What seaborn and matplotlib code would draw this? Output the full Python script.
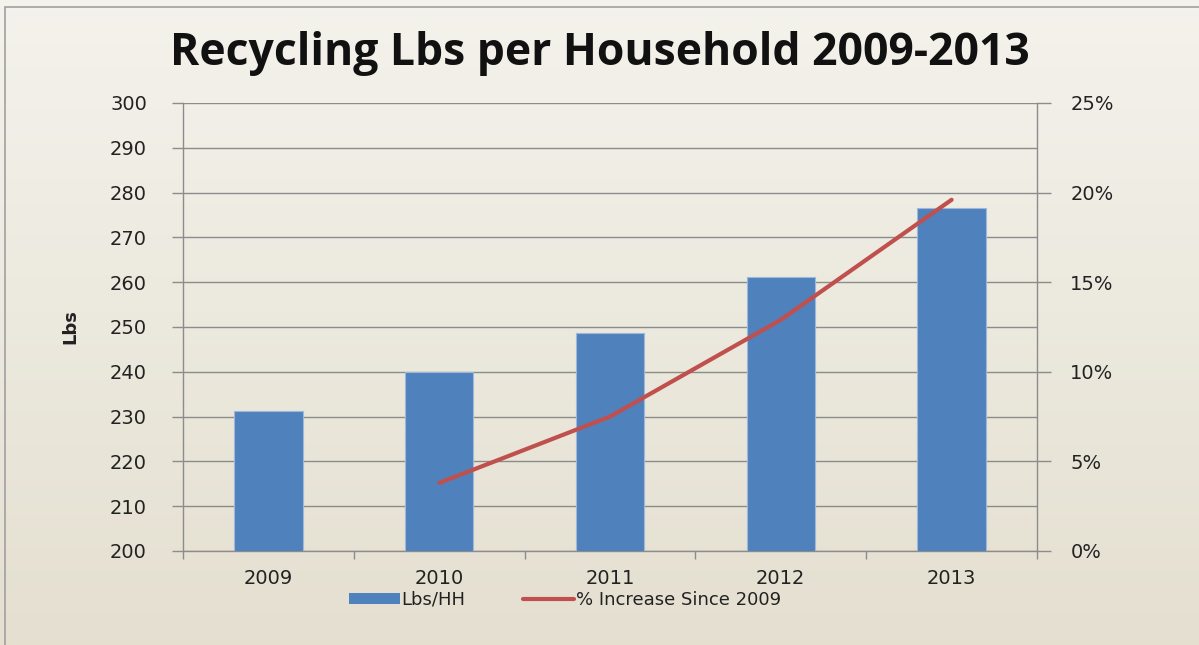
import numpy as np
import pandas as pd
import matplotlib
matplotlib.use("Agg")
import matplotlib.pyplot as plt
from matplotlib.patches import Rectangle, Patch
from matplotlib.lines import Line2D
from matplotlib.ticker import FuncFormatter
import seaborn as sns

# ---- data ----
years = ["2009", "2010", "2011", "2012", "2013"]
lbs_per_hh = [231.3, 240.0, 248.7, 261.2, 276.6]
pct_years = ["2010", "2011", "2012", "2013"]
pct_increase = [3.8, 7.5, 12.9, 19.6]

title = "Recycling Lbs per Household 2009-2013"
bar_label = "Lbs/HH"
line_label = "% Increase Since 2009"

sns.set_theme(style="white")
plt.rcParams["font.family"] = ["DejaVu Sans"]

BLUE = "#4F81BD"
RED = "#C0504D"
GRID = "#8C8C8C"
TXT = "#222222"

fig = plt.figure(figsize=(11.99, 6.45), dpi=100)

# gradient background
bg = fig.add_axes([0, 0, 1, 1], zorder=-10)
grad = np.linspace(0, 1, 256).reshape(-1, 1)
top = np.array([0.955, 0.950, 0.925])
bot = np.array([0.895, 0.875, 0.815])
img = top[None, None, :] * (1 - grad[:, :, None]) + bot[None, None, :] * grad[:, :, None]
bg.imshow(img, aspect="auto", extent=[0, 1, 0, 1], origin="upper")
bg.set_xlim(0, 1); bg.set_ylim(0, 1)
bg.axis("off")
bg.add_patch(Rectangle((5 / 1199, -0.01), 1.1, 1 - 7 / 645 + 0.01, fill=False,
                       edgecolor="#A0A0A0", lw=1.2, transform=bg.transAxes))

W, H = 1199, 645
l, r, t, b = 183, 1037, 103, 551
ax = fig.add_axes([l / W, 1 - b / H, (r - l) / W, (b - t) / H])
ax.patch.set_alpha(0)

df = pd.DataFrame({"year": years, "lbs": lbs_per_hh})
sns.barplot(data=df, x="year", y="lbs", color=BLUE, saturation=1, width=0.4,
            ax=ax, zorder=3, edgecolor="#9DB8DC", linewidth=0.8)
ax.set_ylim(200, 300)
ax.set_xlim(-0.5, len(years) - 0.5)
ax.set_yticks(np.arange(200, 301, 10))
ax.yaxis.grid(True, color=GRID, lw=1.0, zorder=0)
ax.set_axisbelow(True)
ax.set_xlabel("")
ax.set_ylabel("Lbs", fontsize=13, fontweight="bold", color=TXT, labelpad=22)
for s in ["top", "right"]:
    ax.spines[s].set_visible(False)
for s in ["left", "bottom"]:
    ax.spines[s].set_color(GRID)
    ax.spines[s].set_linewidth(1.0)
ax.tick_params(axis="y", which="major", direction="out", length=8, width=1,
               color=GRID, labelsize=14, labelcolor=TXT, left=True, pad=18)
ax.tick_params(axis="x", which="major", length=0, labelsize=14, labelcolor=TXT, pad=13)
ax.set_xticks(np.arange(-0.5, len(years) + 0.5, 1), minor=True)
ax.tick_params(axis="x", which="minor", direction="out", length=6, width=1, color=GRID, bottom=True)

ax2 = ax.twinx()
ax2.patch.set_alpha(0)
dfl = pd.DataFrame({"pos": [years.index(y) for y in pct_years], "pct": pct_increase})
sns.lineplot(data=dfl, x="pos", y="pct", color=RED, lw=3, ax=ax2, zorder=5)
ax2.set_ylim(0, 25)
ax2.set_xlim(-0.5, len(years) - 0.5)
ax2.set_yticks(np.arange(0, 26, 5))
ax2.yaxis.set_major_formatter(FuncFormatter(lambda v, p: f"{int(v)}%"))
ax2.set_ylabel("")
for s in ["top", "left", "bottom"]:
    ax2.spines[s].set_visible(False)
ax2.spines["right"].set_color(GRID)
ax2.spines["right"].set_linewidth(1.0)
ax2.tick_params(axis="y", direction="out", length=10, width=1, color=GRID,
                labelsize=14, labelcolor=TXT, right=True, pad=14)

fig.text(0.5, 1 - 53 / H, title, ha="center", va="center", fontsize=32,
         fontweight="bold", family=["Open Sans", "DejaVu Sans"], color="#111111")

handles = [Patch(facecolor=BLUE, edgecolor="none", label=bar_label),
           Line2D([0], [0], color=RED, lw=3, label=line_label)]
fig.legend(handles=handles, loc="center", bbox_to_anchor=(565 / W, 1 - 600 / H), ncol=2,
           frameon=False, fontsize=13, handlelength=2.8, handleheight=0.6,
           handletextpad=0.1, columnspacing=3.2, labelcolor=TXT)

fig.savefig("out.png", dpi=100)
